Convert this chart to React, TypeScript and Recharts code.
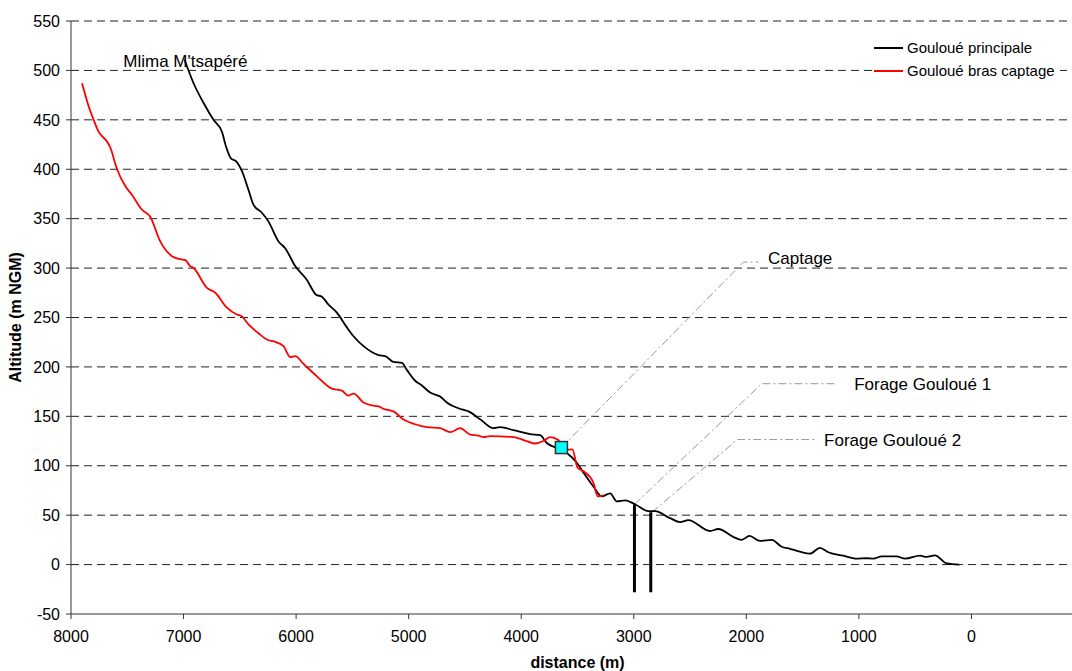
import React from 'react';
import { ComposedChart, Line, XAxis, YAxis, CartesianGrid, ReferenceDot } from 'recharts';

// Gouloué principale (distance m, altitude m NGM)
const principale = [
  { d: 6992, alt: 511 }, { d: 6911, alt: 487 }, { d: 6822, alt: 467 }, { d: 6734, alt: 450 },
  { d: 6659, alt: 438 }, { d: 6623, alt: 423 }, { d: 6579, alt: 411 }, { d: 6532, alt: 408 },
  { d: 6481, alt: 398 }, { d: 6423, alt: 379 }, { d: 6378, alt: 364 }, { d: 6304, alt: 356 },
  { d: 6245, alt: 347 }, { d: 6156, alt: 327 }, { d: 6097, alt: 320 }, { d: 6008, alt: 302 },
  { d: 5904, alt: 288 }, { d: 5822, alt: 273 }, { d: 5771, alt: 271 }, { d: 5712, alt: 263 },
  { d: 5638, alt: 255 }, { d: 5549, alt: 240 }, { d: 5490, alt: 231 }, { d: 5401, alt: 221 },
  { d: 5268, alt: 212 }, { d: 5209, alt: 211 }, { d: 5135, alt: 205 }, { d: 5060, alt: 204 },
  { d: 5016, alt: 197 }, { d: 4942, alt: 186 }, { d: 4880, alt: 181 }, { d: 4809, alt: 174 },
  { d: 4720, alt: 170 }, { d: 4661, alt: 164 }, { d: 4528, alt: 157 }, { d: 4469, alt: 155 },
  { d: 4365, alt: 147 }, { d: 4247, alt: 138 }, { d: 4187, alt: 139 }, { d: 4069, alt: 136 },
  { d: 3921, alt: 132 }, { d: 3832, alt: 131 }, { d: 3773, alt: 123 }, { d: 3684, alt: 118 },
  { d: 3595, alt: 113 }, { d: 3506, alt: 103 }, { d: 3447, alt: 93 }, { d: 3359, alt: 79 },
  { d: 3284, alt: 69 }, { d: 3210, alt: 72 }, { d: 3151, alt: 64 }, { d: 3077, alt: 65 },
  { d: 2989, alt: 61 }, { d: 2870, alt: 54 }, { d: 2811, alt: 54 }, { d: 2678, alt: 47 },
  { d: 2589, alt: 43 }, { d: 2515, alt: 45 }, { d: 2323, alt: 34 }, { d: 2249, alt: 36 },
  { d: 2116, alt: 28 }, { d: 2041, alt: 25 }, { d: 1973, alt: 29 }, { d: 1878, alt: 24 },
  { d: 1774, alt: 25 }, { d: 1686, alt: 18 }, { d: 1612, alt: 16 }, { d: 1523, alt: 13 },
  { d: 1435, alt: 11 }, { d: 1346, alt: 17 }, { d: 1272, alt: 12.5 }, { d: 1139, alt: 9 },
  { d: 1020, alt: 6 }, { d: 931, alt: 6.4 }, { d: 872, alt: 6 }, { d: 798, alt: 8.4 },
  { d: 665, alt: 8.4 }, { d: 590, alt: 6 }, { d: 457, alt: 9 }, { d: 398, alt: 7.8 },
  { d: 324, alt: 9.4 }, { d: 220, alt: 1.2 }, { d: 107, alt: 0 },
];

// Gouloué bras captage
const brasCaptage = [
  { d: 7902, alt: 487 }, { d: 7844, alt: 464 }, { d: 7799, alt: 450 }, { d: 7755, alt: 438 },
  { d: 7680, alt: 428 }, { d: 7651, alt: 422 }, { d: 7591, alt: 400 }, { d: 7518, alt: 383 },
  { d: 7458, alt: 374 }, { d: 7369, alt: 359 }, { d: 7296, alt: 352 }, { d: 7207, alt: 327 },
  { d: 7103, alt: 312 }, { d: 7029, alt: 309 }, { d: 6985, alt: 308 }, { d: 6941, alt: 302 },
  { d: 6911, alt: 300 }, { d: 6792, alt: 280 }, { d: 6718, alt: 275 }, { d: 6615, alt: 260 },
  { d: 6526, alt: 253 }, { d: 6481, alt: 251 }, { d: 6423, alt: 243 }, { d: 6334, alt: 234 },
  { d: 6245, alt: 227 }, { d: 6201, alt: 226 }, { d: 6112, alt: 221 }, { d: 6052, alt: 210 },
  { d: 6008, alt: 211 }, { d: 5934, alt: 203 }, { d: 5815, alt: 190.5 }, { d: 5682, alt: 178 },
  { d: 5593, alt: 176 }, { d: 5535, alt: 171 }, { d: 5490, alt: 173 }, { d: 5401, alt: 164 },
  { d: 5327, alt: 161 }, { d: 5268, alt: 160 }, { d: 5209, alt: 157 }, { d: 5164, alt: 156 },
  { d: 5135, alt: 155 }, { d: 5050, alt: 147 }, { d: 4942, alt: 142 }, { d: 4838, alt: 139 },
  { d: 4720, alt: 138 }, { d: 4631, alt: 134 }, { d: 4543, alt: 138 }, { d: 4454, alt: 131.5 },
  { d: 4380, alt: 130.5 }, { d: 4336, alt: 129 }, { d: 4276, alt: 130 }, { d: 4069, alt: 129 },
  { d: 3950, alt: 125 }, { d: 3877, alt: 122.5 }, { d: 3803, alt: 125 }, { d: 3743, alt: 129 },
  { d: 3670, alt: 126 }, { d: 3610, alt: 116 }, { d: 3545, alt: 116.5 }, { d: 3500, alt: 98 },
  { d: 3447, alt: 94.5 }, { d: 3359, alt: 83 }, { d: 3320, alt: 69 }, { d: 3268, alt: 70 },
];

// Wells (forages): distance, top and bottom altitude
const forage1 = [{ d: 2994, alt: 61 }, { d: 2994, alt: -28 }];
const forage2 = [{ d: 2849, alt: 53 }, { d: 2849, alt: -28 }];

// Captage point
const captagePoint = [{ d: 3643, alt: 118.4 }];

// Annotation leaders (anchor, elbow, end)
const captageLeader = [{ d: 3643, alt: 118.4 }, { d: 2027, alt: 306 }, { d: 1896, alt: 306 }];
const forage1Leader = [{ d: 2994, alt: 61 }, { d: 1863, alt: 183 }, { d: 1188, alt: 183 }];
const forage2Leader = [{ d: 2838, alt: 53 }, { d: 2080, alt: 126.5 }, { d: 1396, alt: 126.5 }];

// Annotation texts
const annotations = [
  { text: 'Captage', d: 1816, alt: 310 },
  { text: 'Forage Gouloué 1', d: 1051, alt: 183 },
  { text: 'Forage Gouloué 2', d: 1318, alt: 126.5 },
  { text: "Mlima M'tsapéré", d: 7544, alt: 510 },
];

const xTicks = [0, 1000, 2000, 3000, 4000, 5000, 6000, 7000, 8000];
const yTicks = [-50, 0, 50, 100, 150, 200, 250, 300, 350, 400, 450, 500, 550];
const gridValues = [0, 50, 100, 150, 200, 250, 300, 350, 400, 450, 500, 550];

const legendItems = [
  { label: 'Gouloué principale', color: '#000000' },
  { label: 'Gouloué bras captage', color: '#ff0000' },
];

const FONT = '"Liberation Sans", Arial, Helvetica, sans-serif';

const SquareDot = (props: any) => {
  const { cx, cy } = props;
  if (cx == null || cy == null) return null;
  return <rect x={cx - 6} y={cy - 6} width={12} height={12} fill="#00ffff" stroke="#333" strokeWidth={1.5} />;
};

export default function App() {
  return (
    <div style={{ position: 'fixed', left: 0, top: 0, width: 1072, height: 671, overflow: 'hidden', background: '#fff', fontFamily: FONT }}>
      <ComposedChart width={1084} height={671} margin={{ top: 21, right: 0, left: 0, bottom: 0 }}>
        <CartesianGrid vertical={false} stroke="#222" strokeDasharray="8 5" horizontalValues={gridValues} />
        <XAxis
          type="number"
          dataKey="d"
          domain={[-1000, 8000]}
          reversed
          ticks={xTicks}
          allowDataOverflow
          height={57}
          tickSize={5}
          tickMargin={12}
          stroke="#333"
          tick={{ fill: '#000', fontSize: 16, fontFamily: FONT }}
          label={{ value: 'distance (m)', position: 'insideBottom', offset: 3, fontSize: 16, fontWeight: 'bold', fill: '#000', fontFamily: FONT }}
        />
        <YAxis
          type="number"
          dataKey="alt"
          domain={[-50, 550]}
          ticks={yTicks}
          allowDataOverflow
          width={71}
          tickSize={5}
          tickMargin={6}
          stroke="#333"
          tick={{ fill: '#000', fontSize: 16, fontFamily: FONT }}
          label={{ value: 'Altitude (m NGM)', angle: -90, position: 'insideLeft', offset: 15, fontSize: 16, fontWeight: 'bold', fill: '#000', fontFamily: FONT, style: { textAnchor: 'middle' } }}
        />
        <Line data={captageLeader} dataKey="alt" type="linear" stroke="#999" strokeWidth={1} strokeDasharray="8 3 2 3" dot={false} legendType="none" isAnimationActive={false} />
        <Line data={forage1Leader} dataKey="alt" type="linear" stroke="#999" strokeWidth={1} strokeDasharray="8 3 2 3" dot={false} legendType="none" isAnimationActive={false} />
        <Line data={forage2Leader} dataKey="alt" type="linear" stroke="#999" strokeWidth={1} strokeDasharray="8 3 2 3" dot={false} legendType="none" isAnimationActive={false} />
        <Line data={principale} dataKey="alt" name="Gouloué principale" type="monotone" stroke="#000" strokeWidth={1.8} dot={false} isAnimationActive={false} />
        <Line data={brasCaptage} dataKey="alt" name="Gouloué bras captage" type="monotone" stroke="#ff0000" strokeWidth={1.8} dot={false} isAnimationActive={false} />
        <Line data={forage1} dataKey="alt" type="linear" stroke="#000" strokeWidth={3} dot={false} legendType="none" isAnimationActive={false} />
        <Line data={forage2} dataKey="alt" type="linear" stroke="#000" strokeWidth={3} dot={false} legendType="none" isAnimationActive={false} />
        <Line data={captagePoint} dataKey="alt" stroke="none" dot={<SquareDot />} legendType="none" isAnimationActive={false} />
        {annotations.map((a) => (
          <ReferenceDot
            key={a.text}
            x={a.d}
            y={a.alt}
            r={1}
            fill="none"
            stroke="none"
            label={{ value: a.text, position: 'right', offset: 0, fontSize: 17, fill: '#000', fontFamily: FONT }}
          />
        ))}
      </ComposedChart>
      <div style={{ position: 'absolute', left: 874, top: 36, paddingRight: 5, fontFamily: FONT, fontSize: 15, color: '#000', background: '#fff' }}>
        {legendItems.map((it) => (
          <div key={it.label} style={{ display: 'flex', alignItems: 'center', height: 23, whiteSpace: 'nowrap' }}>
            <svg width={29} height={4} style={{ marginRight: 4 }}>
              <line x1={0} y1={2} x2={29} y2={2} stroke={it.color} strokeWidth={2} />
            </svg>
            <span>{it.label}</span>
          </div>
        ))}
      </div>
    </div>
  );
}
